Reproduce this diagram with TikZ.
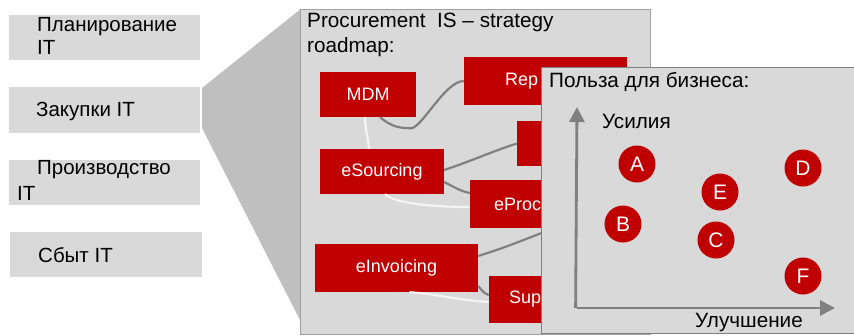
\documentclass[tikz,border=0pt]{standalone}
\usepackage{fontspec}
\setmainfont{Liberation Sans}
\usetikzlibrary{arrows.meta}
\definecolor{redbox}{HTML}{C00000}
\definecolor{panel}{HTML}{D9D9D9}
\definecolor{funnel}{HTML}{BFBFBF}
\definecolor{pborder}{HTML}{A0A0A0}
\definecolor{darkline}{HTML}{808080}
\definecolor{lightline}{HTML}{F4F4F4}
\tikzset{
  leftbox/.style={fill=panel, draw=none},
  lefttext/.style={anchor=west, inner sep=0pt, font=\fontsize{20.5}{23}\selectfont},
  redrect/.style={fill=redbox, draw=none},
  redtext/.style={text=white, inner sep=0pt, font=\fontsize{18}{20}\selectfont},
  darkc/.style={draw=darkline, line width=2.2pt},
  lightc/.style={draw=lightline, line width=2.2pt},
  axis/.style={draw=darkline, line width=2.8pt, -{Triangle[length=15pt,width=15pt]}},
  dot/.style={circle, fill=redbox, minimum size=37pt, inner sep=0pt, text=white, font=\fontsize{21}{23}\selectfont},
  ptitle/.style={anchor=west, inner sep=0pt, font=\fontsize{20.7}{23}\selectfont},
}
\begin{document}
\begin{tikzpicture}[x=1pt,y=-1pt]
\useasboundingbox (0,0) rectangle (854,335);
\clip (0,0) rectangle (854,335);
% left boxes
\fill[leftbox] (9,15) rectangle (200,60);
\node[lefttext] (l1a) at (37,27) {Планирование};
\node[lefttext] (l1b) at (37,47) {IT};
\fill[leftbox] (9,87) rectangle (200,133);
\node[lefttext] (l2) at (36,111) {Закупки IT};
\fill[leftbox] (9,160) rectangle (200,205);
\node[lefttext] (l3a) at (37,170) {Производство};
\node[lefttext] (l3b) at (17,193) {IT};
\fill[leftbox] (10,232) rectangle (202,277);
\node[lefttext] (l4) at (38,255) {Сбыт IT};
% funnel
\fill[funnel] (202,88) -- (300,9.5) -- (300,320) -- (202,128) -- cycle;
% main panel
\filldraw[fill=panel, draw=pborder, line width=0.8pt] (300,9.5) rectangle (650,334);
\node[ptitle] (mtitle1) at (307,22) {Procurement\ \ IS – strategy};
\node[ptitle] (mtitle2) at (307,47) {roadmap:};
% red boxes
\node[redrect, minimum width=96pt, minimum height=45pt, inner sep=0pt] (mdm) at (368,94.5) {};
\node[redtext] at (mdm.center) {MDM};
\node[redrect, minimum width=163pt, minimum height=48pt, inner sep=0pt] (rep) at (545.5,81) {};
\node[redtext, anchor=west] at (505,81) {Rep};
\node[redrect, minimum width=83pt, minimum height=45pt, inner sep=0pt] (b3) at (558.5,143.5) {};
\node[redrect, minimum width=124pt, minimum height=45pt, inner sep=0pt] (es) at (382,171.5) {};
\node[redtext] at (es.center) {eSourcing};
\node[redrect, minimum width=130pt, minimum height=48pt, inner sep=0pt] (ep) at (535,204) {};
\node[redtext, anchor=west] at (494,204) {eProc};
\node[redrect, minimum width=163pt, minimum height=48pt, inner sep=0pt] (ei) at (396.5,268) {};
\node[redtext] at (ei.center) {eInvoicing};
\node[redrect, minimum width=111pt, minimum height=47pt, inner sep=0pt] (sup) at (544.5,299.5) {};
\node[redtext, anchor=west] at (509,299.5) {Sup};
\coordinate (hid) at (580,218);
% connectors (dark)
\draw[darkc] ([xshift=12pt]mdm.south) .. controls +(12,10) and +(-12,0) .. ++(32,11)
   .. controls +(12,-4) and +(-18,0) .. (rep.west);
\draw[darkc] ([yshift=1.5pt]es.east) .. controls +(30,-10) and +(-25,8) .. (b3.west);
\draw[darkc] ([yshift=-10.5pt]es.east) .. controls +(10,5) and +(-10,-2) .. ([yshift=11pt]ep.west);
\draw[darkc] ([yshift=12pt]ei.east) .. controls +(25,-8) .. (hid);
\draw[darkc] ([yshift=-18pt]ei.east) .. controls +(5,6) and +(-5,-2) .. ([yshift=4.5pt]sup.west);
% connectors (light)
\draw[lightc] ([xshift=-3pt]mdm.south) .. controls +(0,12) and +(-1,-12) .. ([xshift=-13pt]es.north);
\draw[lightc] ([xshift=3pt]es.south) .. controls +(10,10) and +(-30,0) .. ([yshift=-3pt]ep.west);
\draw[lightc] ([xshift=13pt]ei.south) .. controls +(30,2) and +(-40,-3) .. ([yshift=-2.5pt]sup.west);
% overlay panel
\filldraw[fill=panel, draw=darkline, line width=0.8pt] (541,67) rectangle (870,333);
\node[ptitle] (otitle) at (549,82) {Польза для бизнеса:};
\coordinate (orig) at (577,308);
\coordinate (ytip) at (577,107);
\coordinate (xtip) at (835,308);
\draw[axis] ([xshift=-1.4pt]orig) -- (ytip);
\draw[axis] (orig) -- (xtip);
\node[ptitle] (ylab) at (602,121) {Усилия};
\node[ptitle] (xlab) at (695,323) {Улучшение};
\node[dot] (A) at (637,164) {A};
\node[dot] (B) at (623,224) {B};
\node[dot] (C) at (716,240) {C};
\node[dot] (D) at (803,168) {D};
\node[dot] (E) at (720,192) {E};
\node[dot] (F) at (803,276) {F};
\end{tikzpicture}
\end{document}
